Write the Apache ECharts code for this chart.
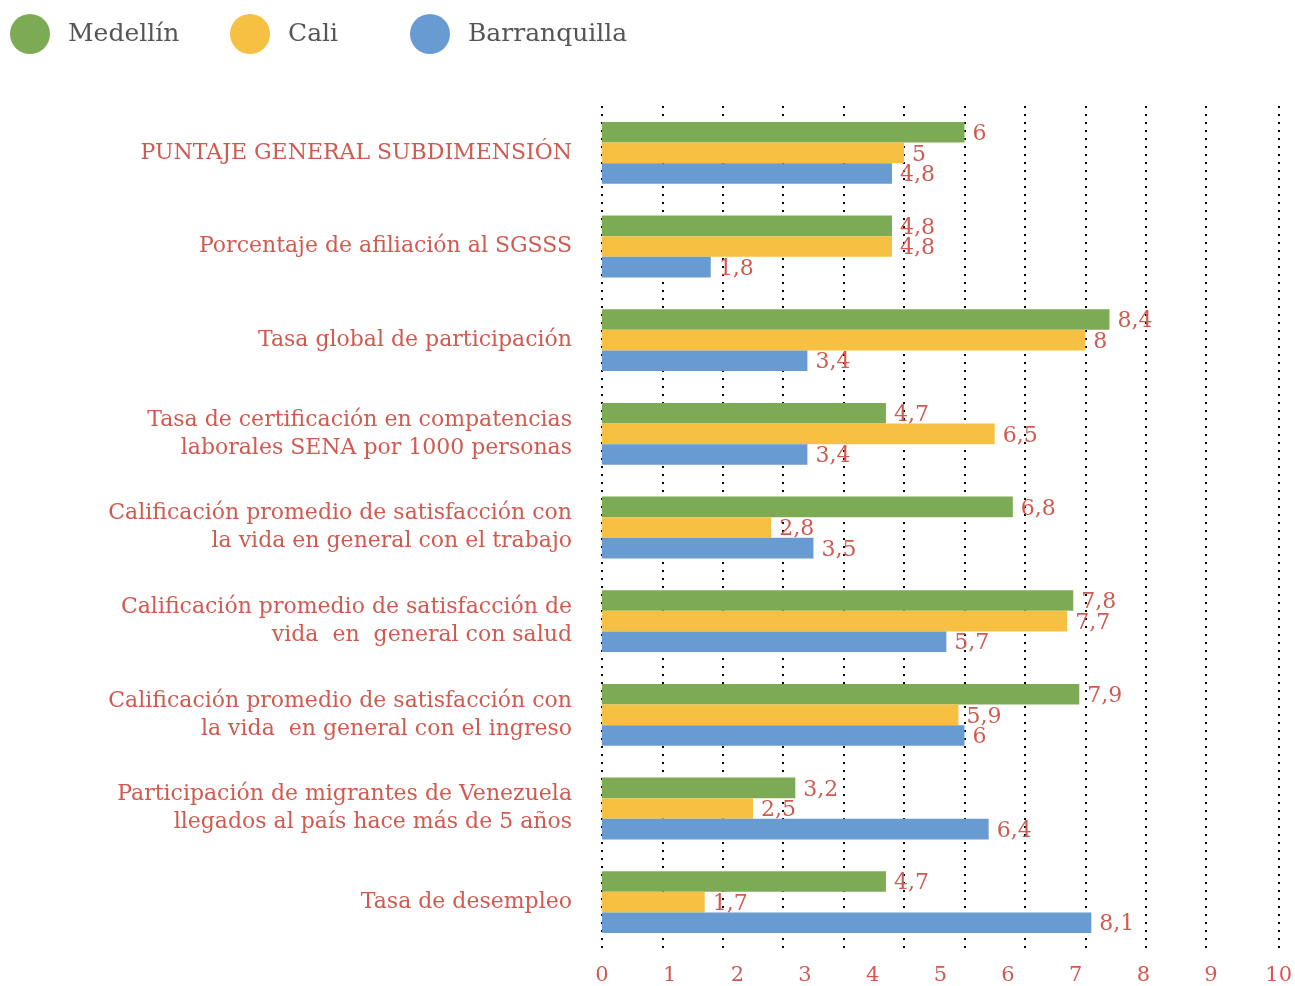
<!DOCTYPE html>
<html>
<head>
<meta charset="utf-8">
<script src="https://cdn.jsdelivr.net/npm/echarts@6/dist/echarts.min.js"></script>
<style>
html,body{margin:0;padding:0;background:#fff;}
#chart{width:1295px;height:986px;}
</style>
</head>
<body>
<div id="chart"></div>
<script>
const categories = [
  'PUNTAJE GENERAL SUBDIMENSIÓN',
  'Porcentaje de afiliación al SGSSS',
  'Tasa global de participación',
  'Tasa de certificación en compatencias\nlaborales SENA por 1000 personas',
  'Calificación promedio de satisfacción con\nla vida en general con el trabajo',
  'Calificación promedio de satisfacción de\nvida  en  general con salud',
  'Calificación promedio de satisfacción con\nla vida  en general con el ingreso',
  'Participación de migrantes de Venezuela\nllegados al país hace más de 5 años',
  'Tasa de desempleo'
];
const seriesNames = ['Medellín', 'Cali', 'Barranquilla'];
const medellin = [6, 4.8, 8.4, 4.7, 6.8, 7.8, 7.9, 3.2, 4.7];
const cali = [5, 4.8, 8, 6.5, 2.8, 7.7, 5.9, 2.5, 1.7];
const barranquilla = [4.8, 1.8, 3.4, 3.4, 3.5, 5.7, 6, 6.4, 8.1];
const tickLabels = ['0','1','2','3','4','5','6','7','8','9','10'];
const gridValues = [0, 1, 2, 3, 4, 5, 6, 7, 8, 9, 10, 11.2];

const colors = ['#7dab55', '#f6c142', '#699bd3'];
const red = '#d05a50';
const serif = "'DejaVu Serif', 'Liberation Serif', serif";

const chart = echarts.init(document.getElementById('chart'));

function mkSeries(name, data, color) {
  return {
    name: name,
    type: 'bar',
    data: data,
    xAxisIndex: 0,
    yAxisIndex: 0,
    barGap: '0%',
    barCategoryGap: '34%',
    itemStyle: { color: color },
    label: {
      show: true,
      position: 'right',
      distance: 8,
      color: red,
      fontFamily: serif,
      fontSize: 22,
      offset: [0, 2],
      formatter: p => String(p.value).replace('.', ',')
    }
  };
}

const legendBase = {
  top: 14,
  padding: 0,
  itemWidth: 40,
  itemHeight: 40,
  icon: 'circle',
  textStyle: { color: '#555', fontFamily: serif, fontSize: 25, padding: [0, 0, 0, 13] }
};

chart.setOption({
  animation: false,
  backgroundColor: '#fff',
  legend: [
    Object.assign({}, legendBase, { left: 10, data: [seriesNames[0]] }),
    Object.assign({}, legendBase, { left: 230, data: [seriesNames[1]] }),
    Object.assign({}, legendBase, { left: 410, data: [seriesNames[2]] })
  ],
  grid: { left: 602, right: 15, top: 106, bottom: 36, containLabel: false },
  xAxis: [
    {
      type: 'value',
      min: 0,
      max: 11.2,
      interval: 1,
      position: 'bottom',
      axisLine: { show: false },
      axisTick: { show: false, customValues: gridValues },
      axisLabel: { show: false },
      splitLine: {
        show: true,
        lineStyle: { color: '#000', width: 2, type: [2, 6] }
      }
    },
    {
      type: 'value',
      min: 0,
      max: 10,
      interval: 1,
      position: 'bottom',
      axisLine: { show: false },
      axisTick: { show: false },
      splitLine: { show: false },
      axisLabel: {
        show: true,
        margin: 16,
        color: red,
        fontFamily: serif,
        fontSize: 21,
        showMinLabel: true,
        showMaxLabel: true,
        formatter: v => tickLabels[Math.round(v)]
      }
    }
  ],
  yAxis: {
    type: 'category',
    data: categories,
    inverse: true,
    axisLine: { show: false },
    axisTick: { show: false },
    splitLine: { show: false },
    axisLabel: {
      margin: 30,
      color: red,
      fontFamily: serif,
      fontSize: 22,
      lineHeight: 28,
      align: 'right'
    }
  },
  series: [
    mkSeries(seriesNames[0], medellin, colors[0]),
    mkSeries(seriesNames[1], cali, colors[1]),
    mkSeries(seriesNames[2], barranquilla, colors[2])
  ]
});
</script>
</body>
</html>
